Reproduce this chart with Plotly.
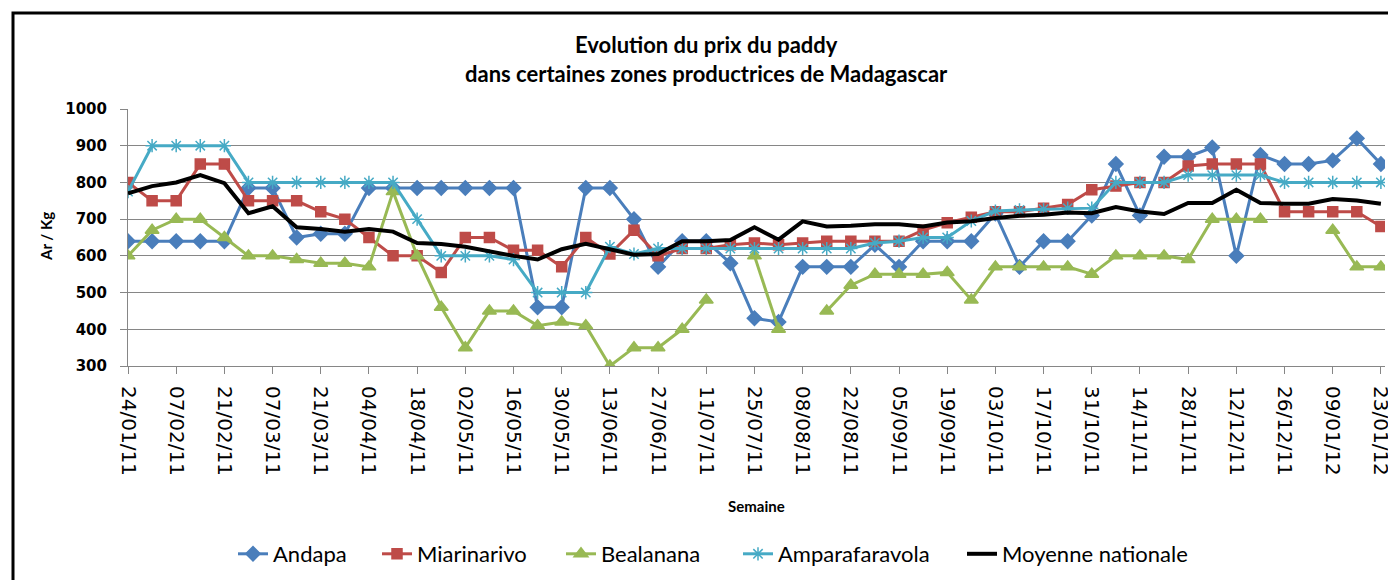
import plotly.graph_objects as go

weeks = ["24/01/11", "31/01/11", "07/02/11", "14/02/11", "21/02/11", "28/02/11", "07/03/11",
         "14/03/11", "21/03/11", "28/03/11", "04/04/11", "11/04/11", "18/04/11", "25/04/11",
         "02/05/11", "09/05/11", "16/05/11", "23/05/11", "30/05/11", "06/06/11", "13/06/11",
         "20/06/11", "27/06/11", "04/07/11", "11/07/11", "18/07/11", "25/07/11", "01/08/11",
         "08/08/11", "15/08/11", "22/08/11", "29/08/11", "05/09/11", "12/09/11", "19/09/11",
         "26/09/11", "03/10/11", "10/10/11", "17/10/11", "24/10/11", "31/10/11", "07/11/11",
         "14/11/11", "21/11/11", "28/11/11", "05/12/11", "12/12/11", "19/12/11", "26/12/11",
         "02/01/12", "09/01/12", "16/01/12", "23/01/12"]

tick_labels = ["24/01/11", "07/02/11", "21/02/11", "07/03/11", "21/03/11", "04/04/11", "18/04/11",
               "02/05/11", "16/05/11", "30/05/11", "13/06/11", "27/06/11", "11/07/11", "25/07/11",
               "08/08/11", "22/08/11", "05/09/11", "19/09/11", "03/10/11", "17/10/11", "31/10/11",
               "14/11/11", "28/11/11", "12/12/11", "26/12/11", "09/01/12", "23/01/12"]

andapa = [640, 640, 640, 640, 640, 785, 785, 650, 660, 660, 785, 785, 785, 785, 785, 785, 785,
          460, 460, 785, 785, 700, 570, 640, 640, 580, 430, 420, 570, 570, 570, 630, 570, 640,
          640, 640, 715, 570, 640, 640, 710, 850, 710, 870, 870, 895, 600, 875, 850, 850, 860,
          920, 850]

miarinarivo = [800, 750, 750, 850, 850, 750, 750, 750, 720, 700, 650, 600, 600, 555, 650, 650,
               615, 615, 570, 650, 605, 670, 600, 620, 620, 630, 635, 630, 635, 640, 640, 640,
               640, 670, 690, 705, 720, 720, 730, 740, 780, 790, 800, 800, 845, 850, 850, 850,
               720, 720, 720, 720, 680]

bealanana = [600, 670, 700, 700, 650, 600, 600, 590, 580, 580, 570, 775, 600, 460, 350, 450, 450,
             410, 420, 410, 300, 350, 350, 400, 480, None, 600, 400, None, 450, 520, 550, 550,
             550, 555, 480, 570, 570, 570, 570, 550, 600, 600, 600, 590, 700, 700, 700, None,
             None, 670, 570, 570]

amparafaravola = [775, 900, 900, 900, 900, 800, 800, 800, 800, 800, 800, 800, 700, 600, 600, 600,
                  590, 500, 500, 500, 625, 605, 620, 620, 620, 620, 620, 620, 620, 620, 620, 635,
                  640, 650, 650, 695, 722, 725, 727, 730, 730, 800, 800, 800, 820, 820, 820, 820,
                  800, 800, 800, 800, 800]

moyenne = [770, 790, 800, 820, 798, 716, 735, 678, 673, 666, 673, 666, 635, 632, 625, 612, 600,
           590, 618, 633, 618, 603, 605, 640, 640, 643, 678, 644, 694, 680, 682, 686, 686, 680,
           691, 694, 703, 709, 712, 718, 716, 733, 721, 714, 744, 744, 780, 744, 742, 742, 755,
           751, 742]

# page is drawn inside the default 8px body margin
OFF = 8
W, H = 1396 - OFF, 580 - OFF
L, R, T, B = 120, 11, 101, 214
pw, ph = W - L - R, H - T - B


def px2paper_x(px):
    return (px - OFF - L) / pw


def py2paper_y(py):
    return 1 - (py - OFF - T) / ph


lato = "Lato, Liberation Sans, sans-serif"

series = [
    ("Andapa", andapa, "#4A7EBB", "diamond", 11, 273),
    ("Miarinarivo", miarinarivo, "#BE4B48", "square", 10, 417),
    ("Bealanana", bealanana, "#98B954", "triangle-up", 12, 601),
    ("Amparafaravola", amparafaravola, "#46AAC5", "asterisk-open", 11, 778),
]

fig = go.Figure()
legends = {}
for k, (name, vals, col, sym, size, text_x) in enumerate(series):
    lg = "legend" if k == 0 else f"legend{k + 1}"
    fig.add_trace(go.Scatter(
        x=weeks, y=vals, name=name, mode="lines+markers", legend=lg,
        line=dict(color=col, width=3),
        marker=dict(symbol=sym, size=size, color=col, line=dict(color=col, width=1.5)),
        connectgaps=False,
    ))
    legends[lg] = text_x
fig.add_trace(go.Scatter(x=weeks, y=moyenne, name="Moyenne nationale", mode="lines",
                         legend="legend5", line=dict(color="black", width=4)))
legends["legend5"] = 1002

legend_layout = {}
for lg, text_x in legends.items():
    legend_layout[lg] = dict(
        orientation="h", x=px2paper_x(text_x - 40), xref="paper", xanchor="left",
        y=py2paper_y(554), yref="paper", yanchor="middle",
        font=dict(family=lato, size=22, color="black"),
        itemwidth=30, bgcolor="rgba(0,0,0,0)", borderwidth=0,
    )

fig.update_layout(
    width=W, height=H,
    margin=dict(l=L, r=R, t=T, b=B, autoexpand=False),
    paper_bgcolor="white", plot_bgcolor="white",
    xaxis=dict(type="category", range=[0, 52.17], tickmode="array",
               tickvals=tick_labels, ticktext=tick_labels, tickangle=90,
               ticks="outside", ticklen=7, tickcolor="#868686", tickwidth=1,
               showline=True, linecolor="#868686", linewidth=1, showgrid=False,
               ticklabelstandoff=8,
               tickfont=dict(family="DejaVu Sans", size=20, color="black")),
    yaxis=dict(range=[300, 1000], dtick=100, tick0=300, ticks="outside", ticklen=7,
               tickcolor="#868686", showline=True, linecolor="#868686", linewidth=1,
               showgrid=True, gridcolor="#868686", gridwidth=1, zeroline=False,
               ticklabelstandoff=10,
               tickfont=dict(family="DejaVu Sans", size=15, color="black", weight="bold")),
    showlegend=True,
    annotations=[
        dict(text="<b>Evolution du prix du paddy</b>", x=px2paper_x(706), y=py2paper_y(44),
             xref="paper", yref="paper", xanchor="center", yanchor="middle", showarrow=False,
             font=dict(family=lato, size=22, color="black")),
        dict(text="<b>dans certaines zones productrices de Madagascar</b>", x=px2paper_x(706),
             y=py2paper_y(73), xref="paper", yref="paper", xanchor="center", yanchor="middle",
             showarrow=False, font=dict(family=lato, size=22, color="black")),
        dict(text="<b>Semaine</b>", x=px2paper_x(756), y=py2paper_y(506), xref="paper", yref="paper",
             xanchor="center", yanchor="middle",
             showarrow=False, font=dict(family=lato, size=15, color="black")),
        dict(text="<b>Ar / Kg</b>", x=px2paper_x(46), y=py2paper_y(237), xref="paper", yref="paper",
             xanchor="center", yanchor="middle",
             showarrow=False, textangle=-90, font=dict(family=lato, size=15, color="black")),
    ],
    shapes=[
        dict(type="rect", xref="paper", yref="paper",
             x0=px2paper_x(13), x1=px2paper_x(1420), y0=py2paper_y(620), y1=py2paper_y(13),
             line=dict(color="black", width=3), fillcolor="rgba(0,0,0,0)", layer="below"),
    ],
    **legend_layout,
)

fig.write_html("out.html")
